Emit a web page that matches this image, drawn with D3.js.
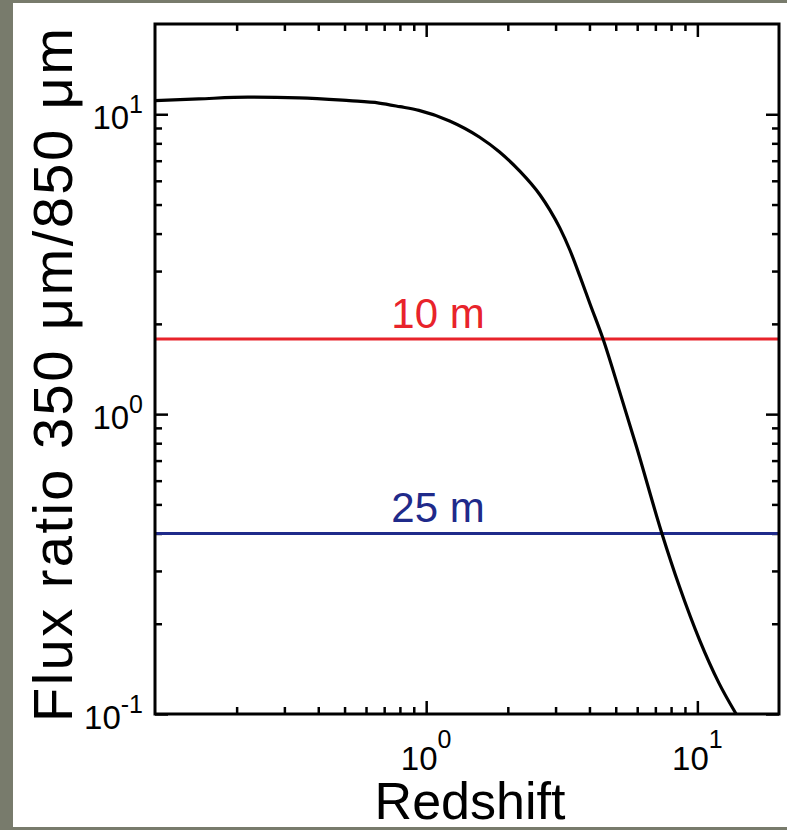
<!DOCTYPE html>
<html>
<head>
<meta charset="utf-8">
<script src="https://cdn.jsdelivr.net/npm/d3@7"></script>
<style>
  html, body { margin: 0; padding: 0; background: #787b6c; }
  svg { display: block; font-family: "Liberation Sans", Arial, Helvetica, sans-serif; }
</style>
</head>
<body>
<svg id="chart" width="787" height="830"></svg>
<script>
// ratio curve
const redshift = [0.1, 0.145, 0.22, 0.34, 0.52, 0.67, 0.8, 0.94, 1.22, 1.57, 1.86, 2.2, 2.63, 2.86, 3.11, 3.39, 3.69, 4.02, 4.49, 5.15, 5.96, 7.4, 8.6, 10.2, 12.0, 13.9];
const fluxRatio = [11.1, 11.25, 11.4, 11.35, 11.1, 10.9, 10.6, 10.3, 9.5, 8.4, 7.5, 6.5, 5.38, 4.79, 4.18, 3.52, 2.88, 2.33, 1.78, 1.2, 0.78, 0.4, 0.265, 0.176, 0.127, 0.1];

// dish size limits
const limitNames = ['10 m', '25 m'];
const limitValues = [1.78, 0.4];
const limitColors = ['#e8232b', '#1f2a8a'];

const xMajor = [1, 10];
const xMajorLabels = ['0', '1'];
const yMajor = [0.1, 1, 10];
const yMajorLabels = ['-1', '0', '1'];
const minorTicks = [0.2, 0.3, 0.4, 0.5, 0.6, 0.7, 0.8, 0.9, 2, 3, 4, 5, 6, 7, 8, 9];

const svg = d3.select('#chart');
const L = 155, R = 779, T = 24, B = 714;

// slide panel
svg.append('rect').attr('x', 13).attr('y', 3).attr('width', 774).attr('height', 824).attr('fill', '#fff');

const x = d3.scaleLog().domain([0.1, 20]).range([L, R]);
const y = d3.scaleLog().domain([0.1, 20]).range([B, T]);

function tickAxis(axisFn, scale, vals, size, tx, ty) {
  const g = svg.append('g').attr('transform', `translate(${tx},${ty})`)
    .call(axisFn(scale).tickValues(vals).tickSize(-size).tickFormat(''));
  g.select('.domain').remove();
  g.selectAll('line').attr('stroke', '#000').attr('stroke-width', 2.5);
  return g;
}

tickAxis(d3.axisBottom, x, xMajor, 13, 0, B);
tickAxis(d3.axisBottom, x, minorTicks, 7, 0, B);
tickAxis(d3.axisTop, x, xMajor, 13, 0, T);
tickAxis(d3.axisTop, x, minorTicks, 7, 0, T);
tickAxis(d3.axisLeft, y, yMajor, 13, L, 0);
tickAxis(d3.axisLeft, y, minorTicks, 7, L, 0);
tickAxis(d3.axisRight, y, yMajor, 13, R, 0);
tickAxis(d3.axisRight, y, minorTicks, 7, R, 0);

// limits
limitValues.forEach((v, i) => {
  svg.append('line')
    .attr('x1', L).attr('x2', R).attr('y1', y(v)).attr('y2', y(v))
    .attr('stroke', limitColors[i]).attr('stroke-width', 3);
  svg.append('text')
    .attr('x', 438).attr('y', y(v) - 11)
    .attr('text-anchor', 'middle').attr('font-size', 42)
    .attr('fill', limitColors[i]).text(limitNames[i]);
});

// curve
const line = d3.line().x(d => x(d[0])).y(d => y(d[1])).curve(d3.curveMonotoneX);
svg.append('path')
  .datum(redshift.map((z, i) => [z, fluxRatio[i]]))
  .attr('d', line).attr('fill', 'none')
  .attr('stroke', '#000').attr('stroke-width', 3.2);

// frame
svg.append('rect').attr('x', L).attr('y', T).attr('width', R - L).attr('height', B - T)
  .attr('fill', 'none').attr('stroke', '#000').attr('stroke-width', 3);

// tick labels
function powLabel(t, exp, supDy) {
  t.append('tspan').text('10');
  t.append('tspan').attr('dy', supDy).attr('font-size', 25).text(exp);
}
xMajor.forEach((v, i) => {
  const t = svg.append('text').attr('x', x(v)).attr('y', 770)
    .attr('text-anchor', 'middle').attr('font-size', 33);
  powLabel(t, xMajorLabels[i], -22);
});
yMajor.forEach((v, i) => {
  const t = svg.append('text').attr('x', 143).attr('y', y(v) + 15)
    .attr('text-anchor', 'end').attr('font-size', 33);
  powLabel(t, yMajorLabels[i], -16);
});

// titles
svg.append('text').attr('x', 470).attr('y', 819)
  .attr('text-anchor', 'middle').attr('font-size', 52).text('Redshift');
svg.append('text')
  .attr('transform', 'translate(72,375) rotate(-90)')
  .attr('text-anchor', 'middle').attr('font-size', 56)
  .attr('textLength', 694).attr('lengthAdjust', 'spacing')
  .text('Flux ratio 350 μm/850 μm');
</script>
</body>
</html>
